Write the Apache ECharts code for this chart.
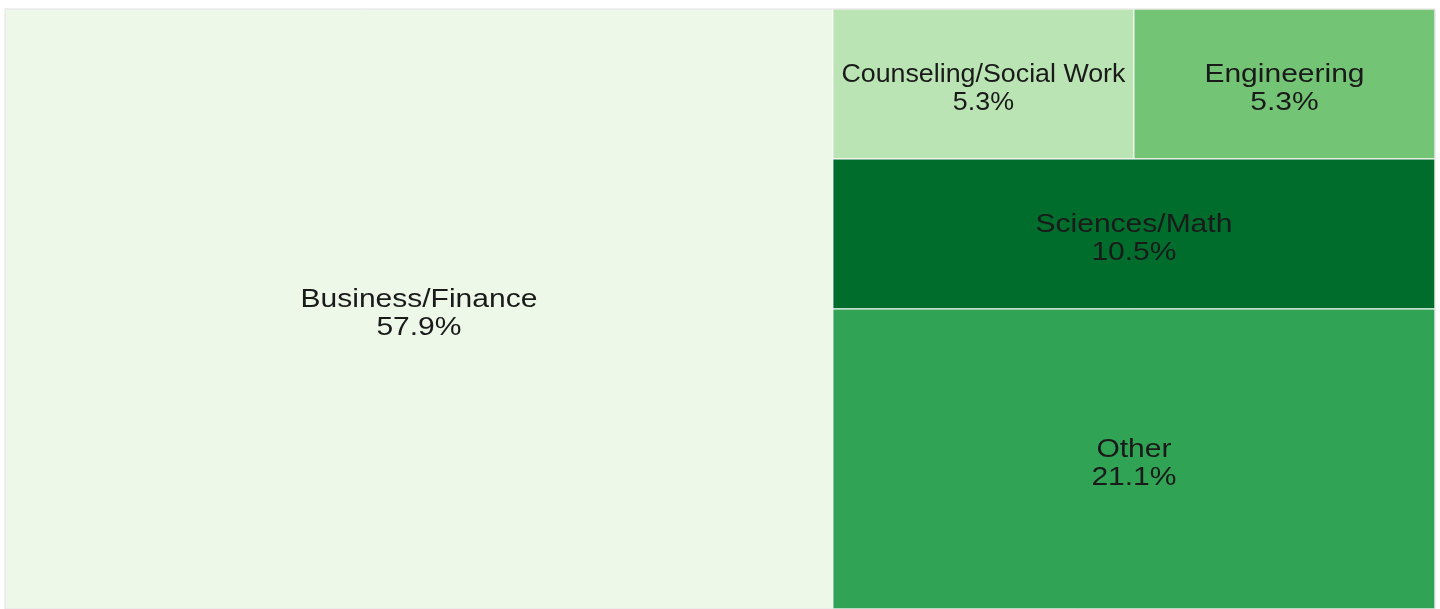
<!DOCTYPE html>
<html>
	<head>
		<meta charset="utf-8">
		<title>Treemap</title>
		<style>
			body{ margin: 0; background: #ffffff; }
			#main{ width: 1440px; height: 609px; }
		</style>
	</head>
	<body>
		<div id="main"></div>
		<script src="https://cdn.jsdelivr.net/npm/echarts@6/dist/echarts.min.js"></script>
		<script>
			// counts per field (percent labels come from these)
			var categories = ['Business/Finance', 'Counseling/Social Work', 'Engineering', 'Sciences/Math', 'Other'];
			var counts = [11, 1, 1, 2, 4];
			var colors = ['#edf8e9', '#bae4b3', '#74c476', '#006d2c', '#31a354'];
			// arrangement: columns -> rows -> item indexes
			var columns = [[[0]], [[1, 2], [3], [4]]];

			var sum = function(arr){ return arr.reduce(function(a, b){ return a + b; }, 0); };
			var total = sum(counts);

			// slice and dice the values into [x0, x1, y0, y1, index]
			var cells = [];
			var x = 0;
			columns.forEach(function(col){
				var colSum = sum(col.map(function(row){ return sum(row.map(function(i){ return counts[i]; })); }));
				var y = 0;
				col.forEach(function(row){
					var rowSum = sum(row.map(function(i){ return counts[i]; }));
					var h = rowSum / colSum;
					var cx = x;
					row.forEach(function(i){
						var w = counts[i] / rowSum * colSum;
						cells.push([cx, cx + w, y, y + h, i]);
						cx += w;
					});
					y += h;
				});
				x += colSum;
			});

			var labels = categories.map(function(name, i){
				return name + '\n' + (counts[i] / total * 100).toFixed(1) + '%';
			});

			// measure text so wide labels get squeezed into their cell
			var ctx = document.createElement('canvas').getContext('2d');
			ctx.font = '25px "Liberation Sans"';
			var textWidth = labels.map(function(t){
				return Math.max.apply(null, t.split('\n').map(function(s){ return ctx.measureText(s).width; }));
			});

			var mychart = echarts.init(document.getElementById('main'));
			var option = {
				animation: false,
				grid: {
					left: 5, top: 9, width: 1430, height: 604,
					show: true, z: 10,
					backgroundColor: 'transparent',
					borderColor: '#dedede', borderWidth: 1
				},
				xAxis: { type: 'value', min: 0, max: total, show: false },
				yAxis: { type: 'value', min: 0, max: 1, inverse: true, show: false },
				series: [{
					type: 'custom',
					data: cells,
					renderItem: function(params, api){
						var p0 = api.coord([api.value(0), api.value(2)]);
						var p1 = api.coord([api.value(1), api.value(3)]);
						var i = api.value(4);
						var w = p1[0] - p0[0];
						var h = p1[1] - p0[1];
						var sx = Math.min(1.2, (w - 17) / textWidth[i]);
						return {
							type: 'group',
							children: [{
								type: 'rect',
								shape: { x: p0[0], y: p0[1], width: w, height: h },
								style: { fill: colors[i], stroke: '#ffffff', lineWidth: 1 }
							}, {
								type: 'text',
								x: p0[0] + w / 2,
								y: p0[1] + h / 2 + 5,
								scaleX: sx,
								style: {
									text: labels[i],
									fill: '#1a1a1a',
									fontSize: 25,
									fontFamily: 'Liberation Sans',
									lineHeight: 28,
									align: 'center',
									verticalAlign: 'middle'
								}
							}]
						};
					}
				}]
			};
			mychart.setOption(option);
		</script>
	</body>
</html>
